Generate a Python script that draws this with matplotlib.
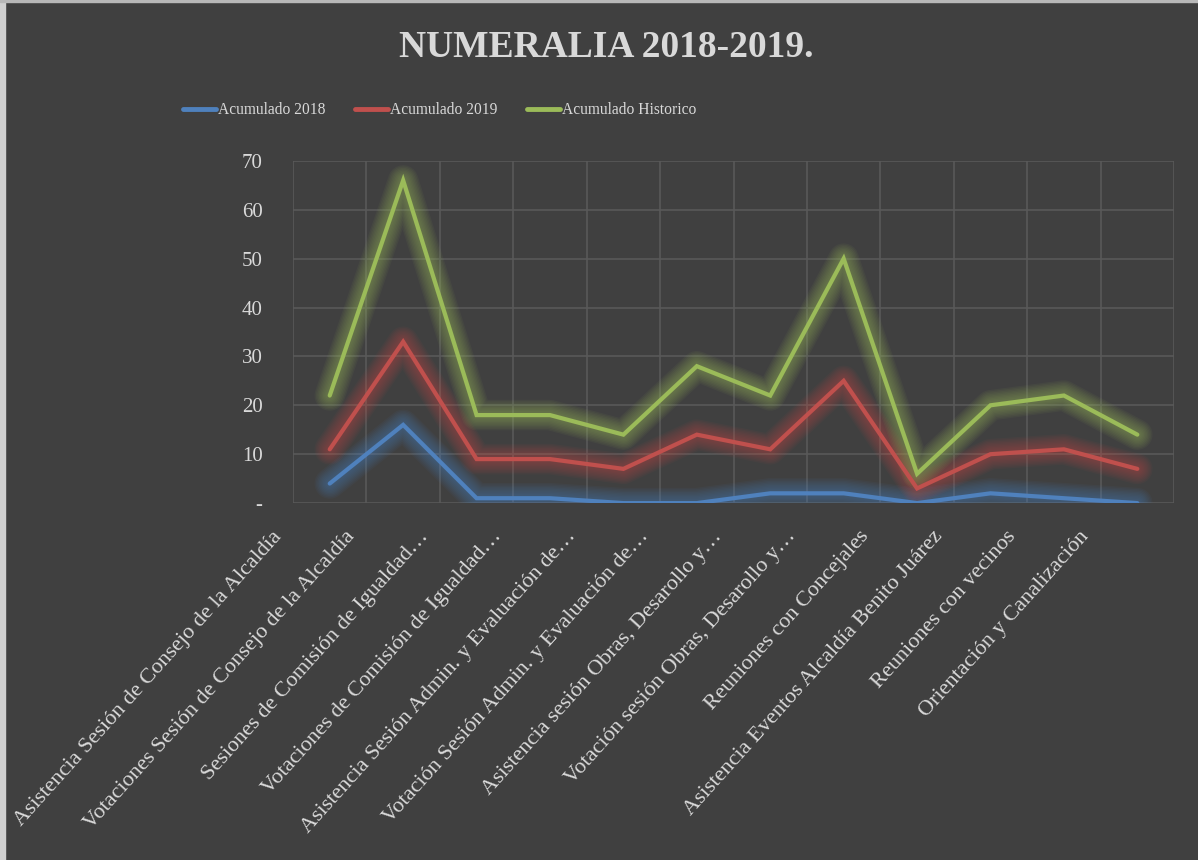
import matplotlib

matplotlib.use("Agg")
import matplotlib.pyplot as plt
import matplotlib.transforms as mtransforms
from matplotlib.patches import Rectangle
import numpy as np

CATEGORIES = [
    "Asistencia Sesión de Consejo de la Alcaldía",
    "Votaciones Sesión de Consejo de la Alcaldía",
    "Sesiones de Comisión de Igualdad…",
    "Votaciones de Comisión de Igualdad…",
    "Asistencia Sesión Admin. y Evaluación de…",
    "Votación Sesión Admin. y Evaluación de…",
    "Asistencia sesión Obras, Desarollo y…",
    "Votación sesión Obras, Desarollo y…",
    "Reuniones con Concejales",
    "Asistencia Eventos Alcaldía Benito Juárez",
    "Reuniones con vecinos",
    "Orientación y Canalización",
]
ACUM_2018 = [4, 16, 1, 1, 0, 0, 2, 2, 0, 2, 1, 0]
ACUM_2019 = [11, 33, 9, 9, 7, 14, 11, 25, 3, 10, 11, 7]
ACUM_HIST = [22, 66, 18, 18, 14, 28, 22, 50, 6, 20, 22, 14]
SERIES_NAMES = ["Acumulado 2018", "Acumulado 2019", "Acumulado Historico"]
Y_TICKS = [0, 10, 20, 30, 40, 50, 60, 70]
Y_TICK_LABELS = ["-", "10", "20", "30", "40", "50", "60", "70"]

# Excel office palette on a dark theme
COLORS = ["#4F81BD", "#C0504D", "#9BBB59"]
BG = "#404040"
GRID = "#595959"
TEXT = "#D9D9D9"
FONT = ["Liberation Serif", "DejaVu Serif"]

plt.rcParams["font.family"] = FONT

fig = plt.figure(figsize=(11.98, 8.6), dpi=100, facecolor=BG)
ax = fig.add_axes([0.2446, 0.415, 0.7354, 0.398])
ax.set_facecolor(BG)

x = np.arange(len(CATEGORIES))
for vals, color, name in zip([ACUM_2018, ACUM_2019, ACUM_HIST], COLORS, SERIES_NAMES):
    # soft glow under each line
    for w in np.linspace(22, 4, 10):
        ax.plot(x, vals, color=color, linewidth=w, alpha=0.06,
                solid_capstyle="round", solid_joinstyle="round", zorder=2)
    ax.plot(x, vals, color=color, linewidth=3.0, solid_capstyle="round",
            solid_joinstyle="miter", label=name, zorder=3)

ax.set_xlim(-0.5, len(CATEGORIES) - 0.5)
ax.set_ylim(0, 70)
ax.set_yticks(Y_TICKS)
ax.set_yticklabels(Y_TICK_LABELS)
ax.set_xticks(x)
ax.set_xticks(np.arange(-0.5, len(CATEGORIES)), minor=True)
ax.set_xticklabels([])

# category labels: Excel puts the rotated text a bit left of each category
label_tr = ax.get_xaxis_transform() + mtransforms.ScaledTranslation(
    -0.58, -0.24, fig.dpi_scale_trans)
for xi, cat in zip(x, CATEGORIES):
    ax.text(xi, 0, cat, transform=label_tr, rotation=48, ha="right", va="top",
            rotation_mode="anchor", fontsize=16, color=TEXT, clip_on=False)

ax.tick_params(axis="x", which="both", length=0)
ax.tick_params(axis="y", length=0, labelsize=15, labelcolor=TEXT, pad=22)
ax.grid(True, axis="y", color=GRID, linewidth=1.2)
ax.grid(True, axis="x", which="minor", color=GRID, linewidth=1.2)
ax.grid(False, axis="x", which="major")
ax.set_axisbelow(True)
for spine in ax.spines.values():
    spine.set_visible(False)

fig.text(0.506, 0.945, "NUMERALIA 2018-2019.", ha="center", va="center",
         fontsize=27, fontweight="bold", color=TEXT)

leg = fig.legend(loc="center", bbox_to_anchor=(0.367, 0.872), ncol=3,
                 frameon=False, fontsize=11.2, labelcolor=TEXT,
                 handlelength=2.1, handletextpad=0.15, columnspacing=1.9)
for h in leg.get_lines():
    h.set_linewidth(3.5)

# thin light frame edges of the pasted picture
fig.add_artist(Rectangle((0, 0), 5 / 1198, 1, transform=fig.transFigure,
                         color="#D0D0D0", zorder=0))
fig.add_artist(Rectangle((0, 1 - 2 / 860), 1, 2 / 860, transform=fig.transFigure,
                         color="#B8B8B8", zorder=0))

fig.savefig("out.png", dpi=100, facecolor=BG)
